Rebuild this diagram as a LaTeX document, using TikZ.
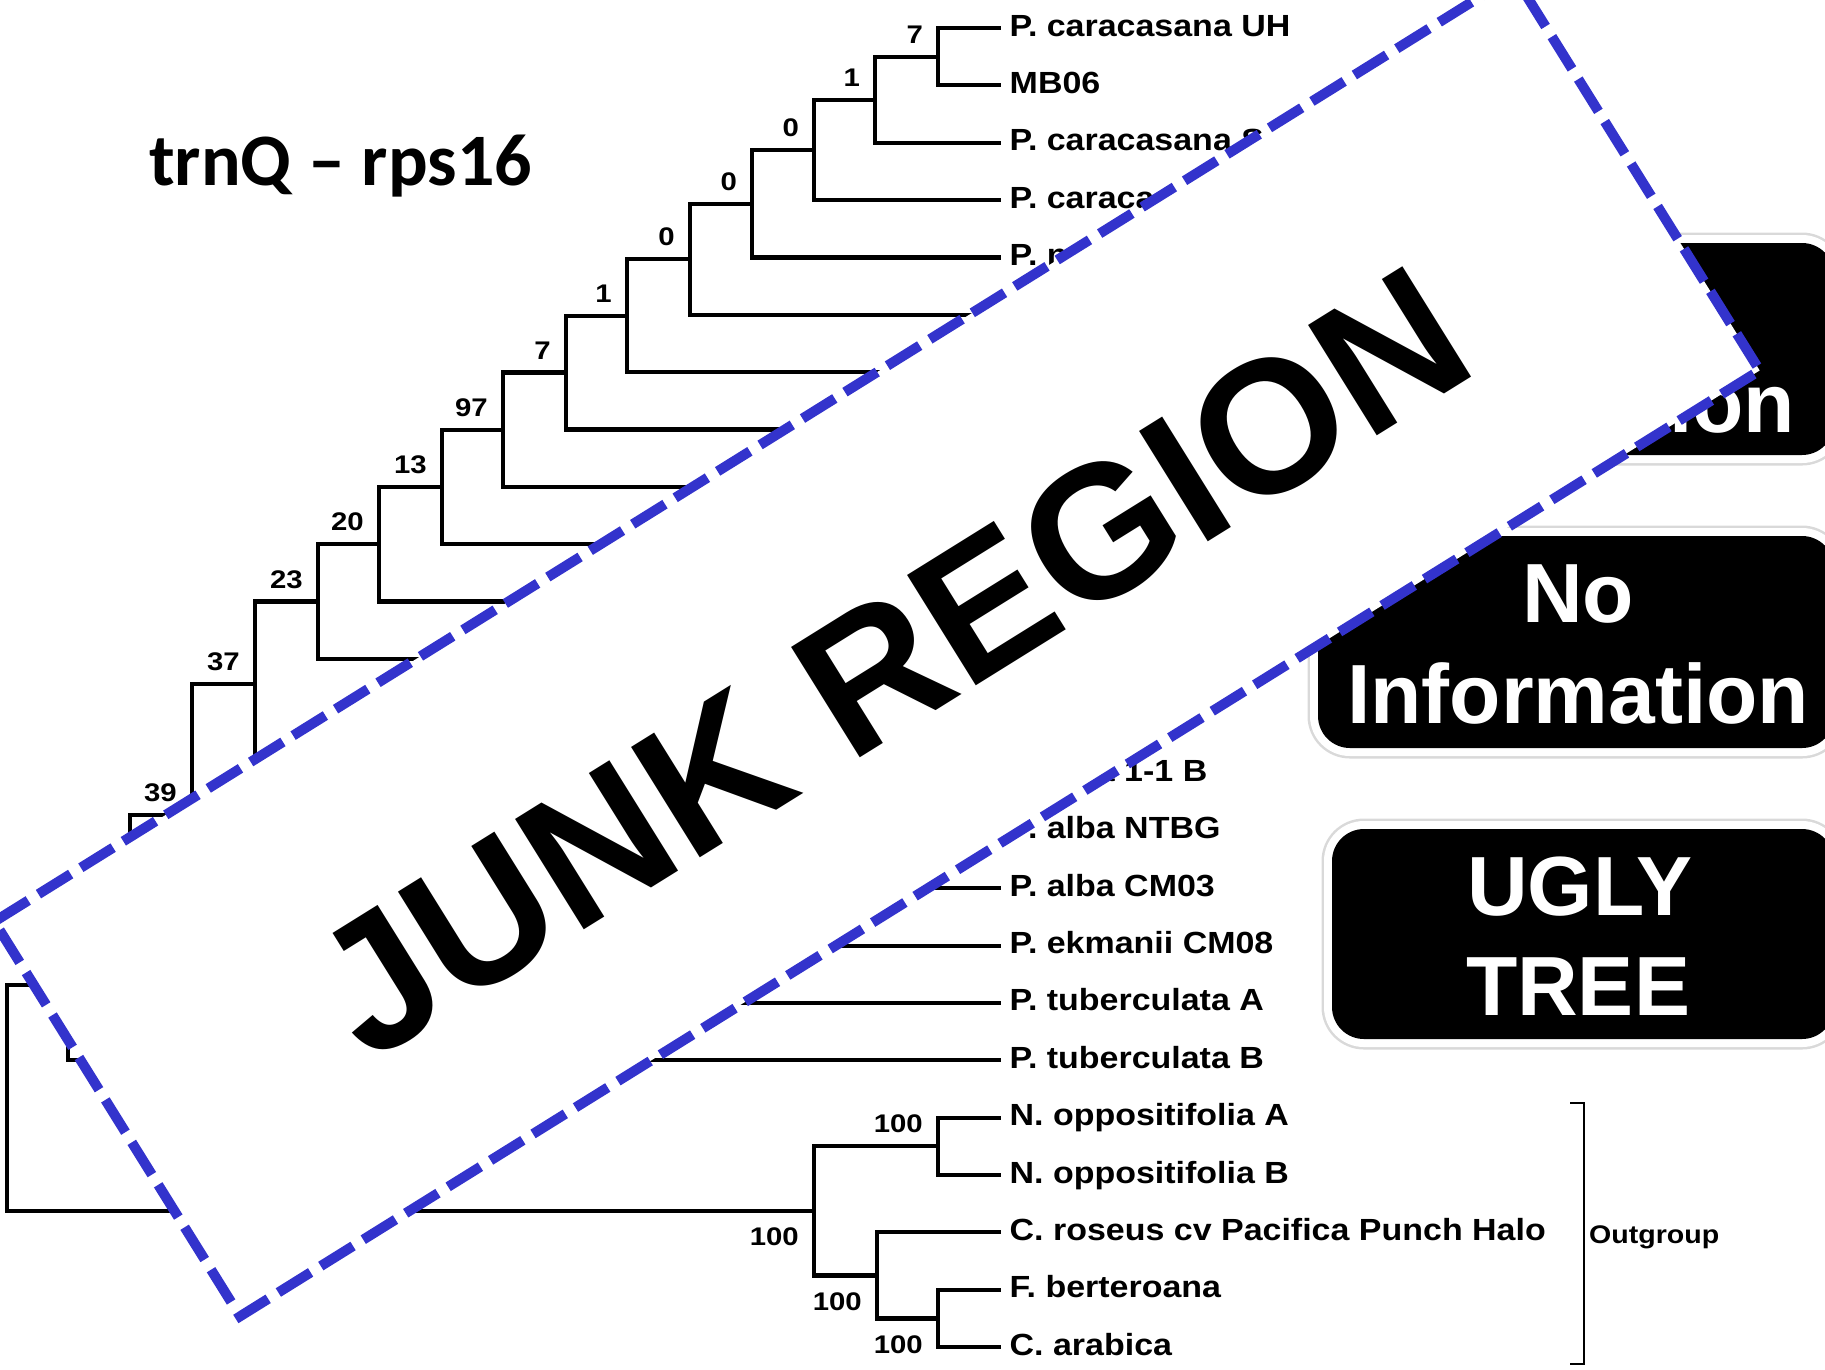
\documentclass[tikz,border=0pt]{standalone}
\usepackage{fontspec}
\setmainfont{Liberation Sans}
\newfontfamily\taxfont{Liberation Sans}[FakeStretch=1.11]
\newfontfamily\bsfont{Liberation Sans}[FakeStretch=1.15]
\newfontfamily\ogfont{Liberation Sans}[FakeStretch=1.12]
\newfontfamily\titlefont{Carlito}
\usetikzlibrary{calc}
\definecolor{junkblue}{RGB}{51,51,204}
\begin{document}
\begin{tikzpicture}[x=1pt,y=-1pt,
  br/.style={line width=4.2pt, line join=miter},
  taxon/.style={anchor=base west, inner sep=0pt, font=\taxfont\bfseries\fontsize{30.6}{36}\selectfont},
  boot/.style={inner sep=0pt, font=\bsfont\bfseries\fontsize{25.5}{30}\selectfont},
  bootup/.style={boot, anchor=south east},
  bootdn/.style={boot, anchor=north east},
  blackbox/.style={rectangle, inner sep=0pt, rounded corners=32pt, fill=black,
     preaction={draw=gray!30, line width=21pt},
     preaction={draw=white, line width=16pt}},
  boxtext/.style={anchor=base, inner sep=0pt, text=white, font=\bfseries\fontsize{84}{100}\selectfont},
  banner/.style={rectangle, inner sep=0pt, draw=junkblue, fill=white, line width=10pt,
     dash pattern=on 38pt off 12pt, rotate=31.9, minimum width=1790pt, minimum height=465pt},
  junktext/.style={inner sep=0pt, rotate=31.9, font=\bfseries\fontsize{189}{200}\selectfont}
]
\useasboundingbox (0,0) rectangle (1825,1369);
\clip (0,0) rectangle (1825,1369);

% ---------- tips ----------
\coordinate (t0) at (1001,28.0);
\coordinate (t1) at (1001,85.35);
\coordinate (t2) at (1001,142.7);
\coordinate (t3) at (1001,200.05);
\coordinate (t4) at (1001,257.4);
\coordinate (t5) at (1001,314.75);
\coordinate (t6) at (1001,372.1);
\coordinate (t7) at (1001,429.45);
\coordinate (t8) at (1001,486.8);
\coordinate (t9) at (1001,544.15);
\coordinate (t10) at (1001,601.5);
\coordinate (t11) at (1001,658.85);
\coordinate (t12) at (1001,716.2);
\coordinate (t13) at (1001,773.55);
\coordinate (t14) at (1001,830.9);
\coordinate (t15) at (1001,888.25);
\coordinate (t16) at (1001,945.6);
\coordinate (t17) at (1001,1002.95);
\coordinate (t18) at (1001,1060.3);
\coordinate (t19) at (1001,1117.65);
\coordinate (t20) at (1001,1175.0);
\coordinate (t21) at (1001,1232.35);
\coordinate (t22) at (1001,1289.7);
\coordinate (t23) at (1001,1347.05);

% ---------- internal nodes ----------
\coordinate (nA) at (938,56.7);
\coordinate (nB) at (875,99.7);
\coordinate (nC) at (814,149.9);
\coordinate (nD) at (752,203.6);
\coordinate (nE) at (690,259.2);
\coordinate (nF) at (627,315.6);
\coordinate (nG) at (566,372.5);
\coordinate (nH) at (503,429.7);
\coordinate (nI) at (442,486.9);
\coordinate (nJ) at (379,544.2);
\coordinate (nK) at (318,601.5);
\coordinate (nW) at (760,859.6);
\coordinate (nY) at (570,816.6);
\coordinate (nZ) at (385,766.4);
\coordinate (nL) at (255,684.0);
\coordinate (nM) at (192,814.8);
\coordinate (nX) at (130,908.9);
\coordinate (nIn) at (68,984.6);
\coordinate (nNo) at (938,1146.3);
\coordinate (nFC) at (938,1318.4);
\coordinate (nRo) at (877,1275.4);
\coordinate (nOut) at (814,1210.8);
\coordinate (nRoot) at (7,1097.7);

% ---------- branches ----------
\draw[br] (nA) |- (t0);   \draw[br] (nA) |- (t1);
\draw[br] (nB) |- (nA);   \draw[br] (nB) |- (t2);
\draw[br] (nC) |- (nB);   \draw[br] (nC) |- (t3);
\draw[br] (nD) |- (nC);   \draw[br] (nD) |- (t4);
\draw[br] (nE) |- (nD);   \draw[br] (nE) |- (t5);
\draw[br] (nF) |- (nE);   \draw[br] (nF) |- (t6);
\draw[br] (nG) |- (nF);   \draw[br] (nG) |- (t7);
\draw[br] (nH) |- (nG);   \draw[br] (nH) |- (t8);
\draw[br] (nI) |- (nH);   \draw[br] (nI) |- (t9);
\draw[br] (nJ) |- (nI);   \draw[br] (nJ) |- (t10);
\draw[br] (nK) |- (nJ);   \draw[br] (nK) |- (t11);
\draw[br] (nW) |- (t14);  \draw[br] (nW) |- (t15);
\draw[br] (nY) |- (t13);  \draw[br] (nY) |- (nW);
\draw[br] (nZ) |- (t12);  \draw[br] (nZ) |- (nY);
\draw[br] (nL) |- (nK);   \draw[br] (nL) |- (nZ);
\draw[br] (nM) |- (nL);   \draw[br] (nM) |- (t16);
\draw[br] (nX) |- (nM);   \draw[br] (nX) |- (t17);
\draw[br] (nIn) |- (nX);  \draw[br] (nIn) |- (t18);
\draw[br] (nNo) |- (t19); \draw[br] (nNo) |- (t20);
\draw[br] (nFC) |- (t22); \draw[br] (nFC) |- (t23);
\draw[br] (nRo) |- (t21); \draw[br] (nRo) |- (nFC);
\draw[br] (nOut) |- (nNo); \draw[br] (nOut) |- (nRo);
\draw[br] (nRoot) |- (nIn); \draw[br] (nRoot) |- (nOut);

% ---------- support values ----------
\node[bootup] (bA) at ($(nA)+(-15,-13)$) {7};
\node[bootup] (bB) at ($(nB)+(-15,-13)$) {1};
\node[bootup] (bC) at ($(nC)+(-15,-13)$) {0};
\node[bootup] (bD) at ($(nD)+(-15,-13)$) {0};
\node[bootup] (bE) at ($(nE)+(-15,-13)$) {0};
\node[bootup] (bF) at ($(nF)+(-15,-13)$) {1};
\node[bootup] (bG) at ($(nG)+(-15,-13)$) {7};
\node[bootup] (bH) at ($(nH)+(-15,-13)$) {97};
\node[bootup] (bI) at ($(nI)+(-15,-13)$) {13};
\node[bootup] (bJ) at ($(nJ)+(-15,-13)$) {20};
\node[bootup] (bK) at ($(nK)+(-15,-13)$) {23};
\node[bootup] (bL) at ($(nL)+(-15,-13)$) {37};
\node[bootup] (bM) at ($(nM)+(-15,-13)$) {39};
\node[bootup] (bNo) at ($(nNo)+(-15,-13)$) {100};
\node[bootdn] (bOut) at ($(nOut)+(-15,17)$) {100};
\node[bootdn] (bRo) at ($(nRo)+(-15,17)$) {100};
\node[bootdn] (bFC) at ($(nFC)+(-15,17)$) {100};

% ---------- taxon labels ----------
\node[taxon] (l0) at ($(t0)+(8.5,8)$) {P. caracasana UH};
\node[taxon] (l1) at ($(t1)+(8.5,8)$) {MB06};
\node[taxon] (l2) at ($(t2)+(8.5,8)$) {P. caracasana S};
\node[taxon] (l3) at ($(t3)+(8.5,8)$) {P. caracasana};
\node[taxon] (l4) at ($(t4)+(8.5,8)$) {P. n};
\node[taxon] (l13) at ($(t13)+(8.5,8)$) {P. alba 1-1 B};
\node[taxon] (l14) at ($(t14)+(8.5,8)$) {P. alba NTBG};
\node[taxon] (l15) at ($(t15)+(8.5,8)$) {P. alba CM03};
\node[taxon] (l16) at ($(t16)+(8.5,8)$) {P. ekmanii CM08};
\node[taxon] (l17) at ($(t17)+(8.5,8)$) {P. tuberculata A};
\node[taxon] (l18) at ($(t18)+(8.5,8)$) {P. tuberculata B};
\node[taxon] (l19) at ($(t19)+(8.5,8)$) {N. oppositifolia A};
\node[taxon] (l20) at ($(t20)+(8.5,8)$) {N. oppositifolia B};
\node[taxon] (l21) at ($(t21)+(8.5,8)$) {C. roseus cv Pacifica Punch Halo};
\node[taxon] (l22) at ($(t22)+(8.5,8)$) {F. berteroana};
\node[taxon] (l23) at ($(t23)+(8.5,8)$) {C. arabica};

% ---------- outgroup bracket ----------
\coordinate (bt) at (1584,1103);
\coordinate (bb) at (1584,1364);
\draw[line width=2.5pt] ($(bt)+(-14,0)$) -- (bt) -- (bb) -- ($(bb)+(-14,0)$);
\node[anchor=base west, inner sep=0pt, font=\ogfont\bfseries\fontsize{25.5}{30}\selectfont] (og) at (1589,1243) {Outgroup};

% ---------- title ----------
\node[anchor=base west, inner sep=0pt, font=\titlefont\bfseries\fontsize{74}{80}\selectfont] (title) at (149,185) {trnQ – rps16};

% ---------- black boxes ----------
\node[blackbox, minimum width=516pt, minimum height=212pt] (box1) at (1576,349) {};
\node[blackbox, minimum width=516pt, minimum height=212pt] (box2) at (1576,642) {};
\node[blackbox, minimum width=502pt, minimum height=210pt] (box3) at (1583,934) {};
\node[boxtext] (box1a) at (1578,332) {Poor};
\node[boxtext] (box1b) at (1578,432.5) {Resolution};
\node[boxtext] (box2a) at (1578,622) {No};
\node[boxtext] (box2b) at (1578,723.5) {Information};
\node[boxtext] (box3a) at (1580,915) {UGLY};
\node[boxtext] (box3b) at (1578,1015) {TREE};

% ---------- junk banner ----------
\node[banner] (junk) at (877,646) {};
\node[junktext] (junklabel) at (891,662) {JUNK REGION};
\end{tikzpicture}
\end{document}
